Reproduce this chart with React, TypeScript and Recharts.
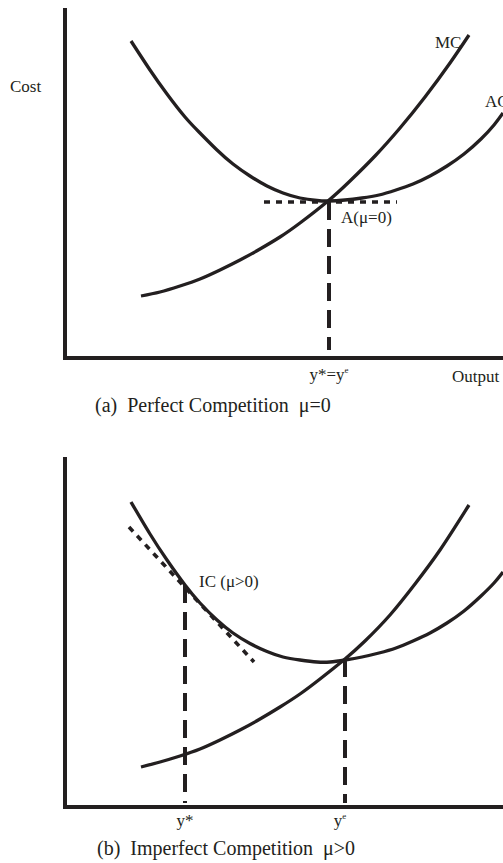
import { LineChart, Line, XAxis, YAxis, ReferenceDot } from 'recharts';

const INK = '#231f20';
const FONT = '"Liberation Serif", "Times New Roman", serif';

// points are [output, cost]
// panel (a) perfect competition
const acA = [
  [66, 317], [85, 288], [102, 264], [120, 241], [135, 225], [152, 208], [168, 194],
  [185, 182], [202, 172], [218, 165], [235, 160], [252, 157.5], [263, 157], [280, 158],
  [297, 160], [314, 163], [331, 168], [348, 174], [365, 182], [382, 192], [399, 204],
  [416, 219], [429, 233], [438, 245],
];
const mcA = [
  [76, 62], [95, 66], [115, 72], [135, 79], [155, 88], [175, 98], [195, 109], [215, 121],
  [235, 135], [263, 157], [285, 177], [310, 202], [335, 230], [360, 261], [385, 295], [404, 323],
];
const minCostA = [[199, 156], [332, 156]];
const outputLineA = [[264, 156], [264, 8]];

// panel (b) imperfect competition
const acB = [
  [66, 305], [85, 273], [102, 247], [120, 222], [135, 204], [152, 187], [168, 174],
  [185, 163.5], [202, 155.5], [218, 150], [235, 147], [252, 145], [265, 145], [280, 147],
  [297, 150], [314, 154], [331, 159], [348, 166], [365, 174], [382, 184], [399, 196],
  [416, 211], [429, 224], [438, 235],
];
const mcB = [
  [76, 40], [95, 45], [115, 51], [135, 58], [155, 67], [175, 77], [195, 88], [215, 100],
  [235, 113], [255, 128], [280, 148], [300, 166], [325, 192], [350, 223], [375, 257], [404, 302],
];
const tangentB = [[64, 280], [189, 145]];
const starLineB = [[120, 222], [120, 4]];
const eLineB = [[280, 148], [280, 4]];

const ticksA = [264];
const tickLabelsA = [{ text: 'y*=y', sup: 'e', dx: 0, dy: 22 }];
const ticksB = [120, 280];
const tickLabelsB = [
  { text: 'y*', sup: '', dx: 0, dy: 19 },
  { text: 'y', sup: 'e', dx: -5, dy: 19 },
];

const notesA = [
  { x: -55, y: 266, text: 'Cost', size: 17 },
  { x: 370, y: 310, text: 'MC', size: 17 },
  { x: 420, y: 251, text: 'AC', size: 17 },
  { x: 276, y: 135, text: 'A(\u03bc=0)', size: 17 },
  { x: 387, y: -24, text: 'Output', size: 17 },
  { x: 30, y: -54, text: '(a)  Perfect Competition  \u03bc=0', size: 20 },
];
const notesB = [
  { x: 134, y: 220, text: 'IC (\u03bc>0)', size: 17 },
  { x: 32, y: -48, text: '(b)  Imperfect Competition  \u03bc>0', size: 20 },
];

const rows = (pts: number[][]) => pts.map(([x, y]) => ({ x, y }));

function Panel({ height, top, bottom, curves, dashed, dotted, ticks, tickLabels, notes }: any) {
  const renderTick = (p: any) => {
    const i = ticks.indexOf(p.payload.value);
    const l = tickLabels[i];
    if (!l) return <g />;
    return (
      <text x={p.x + l.dx} y={p.y + l.dy} textAnchor="middle" fontFamily={FONT} fontSize={17} fill={INK}>
        {l.text}
        {l.sup && <tspan dy={-7} fontSize={9}>{l.sup}</tspan>}
      </text>
    );
  };

  return (
    <LineChart width={503} height={height} margin={{ top, right: 0, bottom: bottom - 1, left: 64 }} style={{ display: 'block' }}>
      <XAxis
        type="number"
        dataKey="x"
        domain={[0, 438]}
        allowDataOverflow
        height={1}
        ticks={ticks}
        interval={0}
        tick={renderTick}
        tickLine={false}
        tickSize={0}
        tickMargin={0}
        axisLine={{ stroke: INK, strokeWidth: 4 }}
      />
      <YAxis
        type="number"
        dataKey="y"
        domain={[0, 348]}
        allowDataOverflow
        width={1}
        tick={false}
        tickLine={false}
        axisLine={{ stroke: INK, strokeWidth: 4, strokeLinecap: 'square' }}
      />
      {curves.map((c: number[][], i: number) => (
        <Line key={`c${i}`} data={rows(c)} dataKey="y" type="natural" stroke={INK} strokeWidth={3.3}
          dot={false} activeDot={false} isAnimationActive={false} />
      ))}
      {dashed.map((c: number[][], i: number) => (
        <Line key={`d${i}`} data={rows(c)} dataKey="y" type="linear" stroke={INK} strokeWidth={4}
          strokeDasharray="18 9" dot={false} activeDot={false} isAnimationActive={false} />
      ))}
      {dotted.map((c: number[][], i: number) => (
        <Line key={`t${i}`} data={rows(c)} dataKey="y" type="linear" stroke={INK} strokeWidth={3.6}
          strokeDasharray="6 6" dot={false} activeDot={false} isAnimationActive={false} />
      ))}
      {notes.map((n: any) => (
        <ReferenceDot
          key={n.text}
          x={n.x}
          y={n.y}
          r={0}
          fill="none"
          stroke="none"
          ifOverflow="visible"
          label={{
            content: ({ viewBox }: any) => (
              <text x={viewBox.x} y={viewBox.y} fontFamily={FONT} fontSize={n.size} fill={INK}
                style={{ whiteSpace: 'pre' }}>
                {n.text}
              </text>
            ),
          }}
        />
      ))}
    </LineChart>
  );
}

export default function App() {
  return (
    <div style={{ position: 'absolute', left: 0, top: 0, width: 503, height: 863, background: '#fff', overflow: 'hidden' }}>
      <Panel
        height={420}
        top={10}
        bottom={62}
        curves={[acA, mcA]}
        dashed={[outputLineA]}
        dotted={[minCostA]}
        ticks={ticksA}
        tickLabels={tickLabelsA}
        notes={notesA}
      />
      <Panel
        height={443}
        top={39}
        bottom={56}
        curves={[acB, mcB]}
        dashed={[starLineB, eLineB]}
        dotted={[tangentB]}
        ticks={ticksB}
        tickLabels={tickLabelsB}
        notes={notesB}
      />
    </div>
  );
}
